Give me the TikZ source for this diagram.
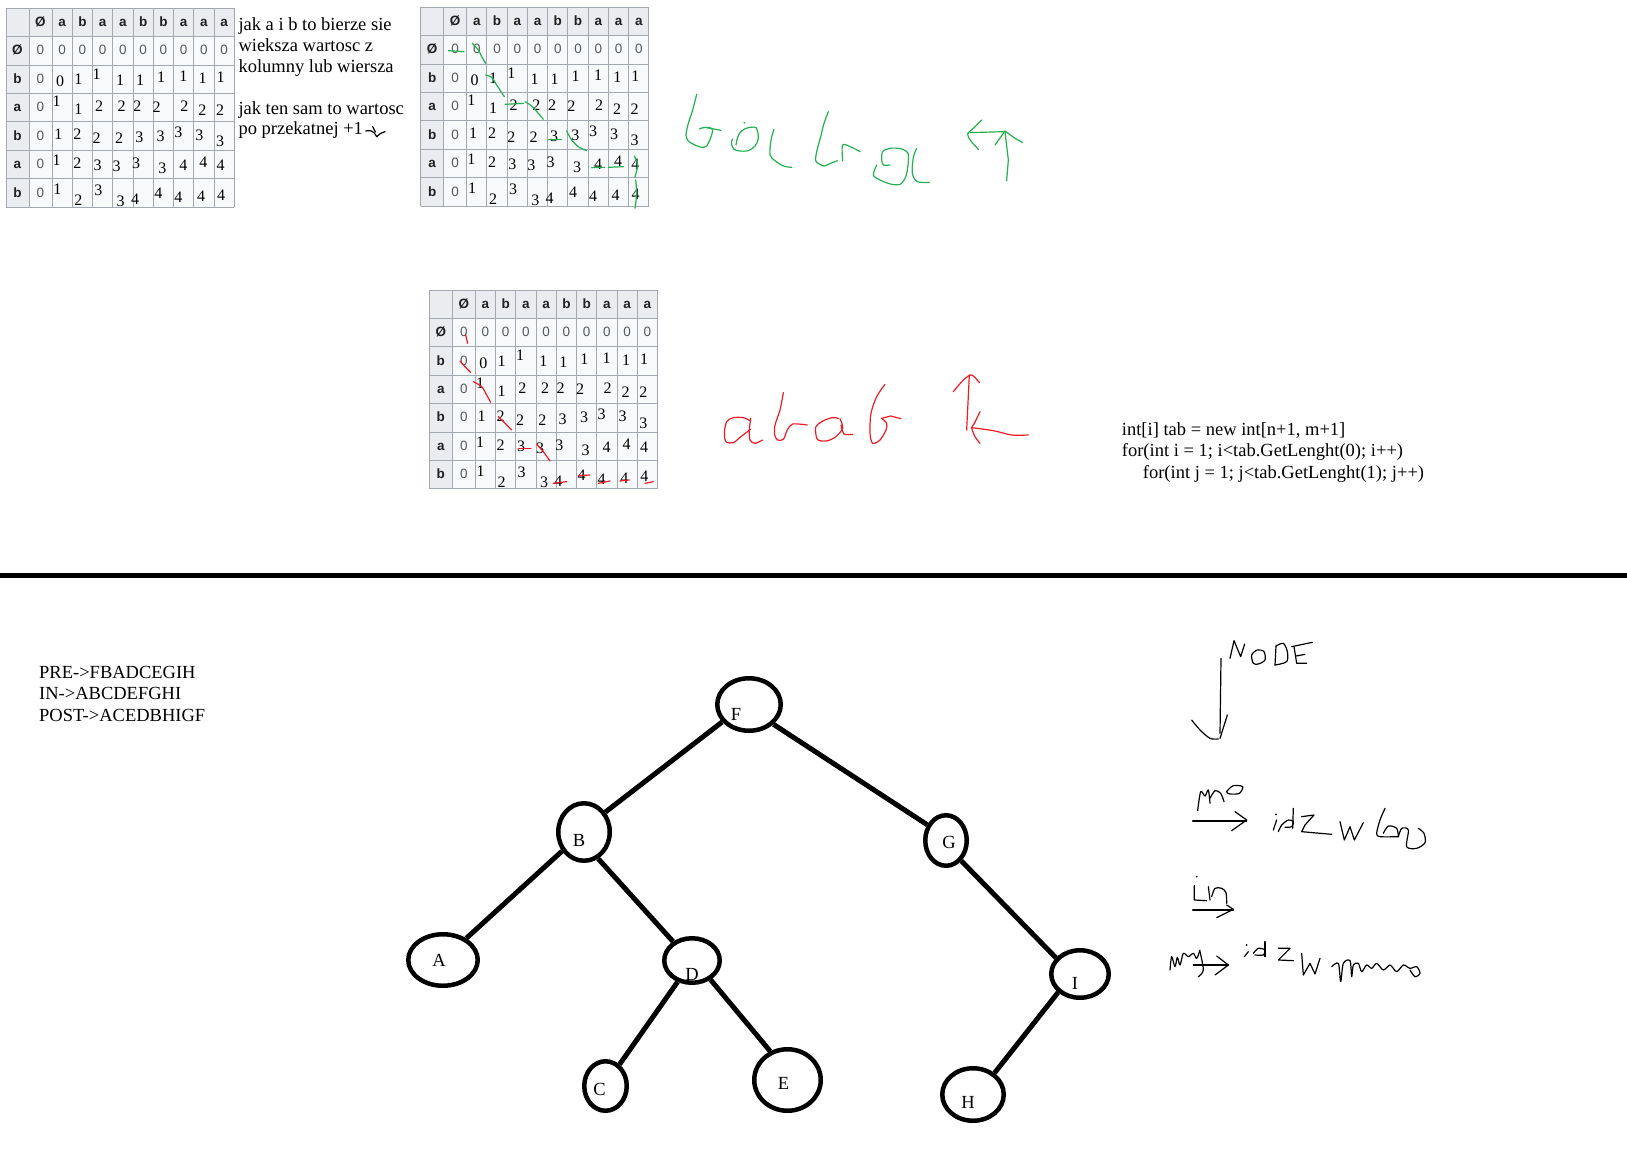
\documentclass[tikz,border=0pt]{standalone}
\usepackage{fontspec}
\setmainfont{Liberation Serif}
\newfontfamily\arialf{Liberation Sans}
\usetikzlibrary{shapes.geometric}
\definecolor{hdr}{HTML}{EAECF0}
\definecolor{cellbg}{HTML}{F8F9FA}
\definecolor{gridc}{HTML}{A2A9B1}
\definecolor{hdtext}{HTML}{202122}
\definecolor{zrtext}{HTML}{54595D}
\definecolor{pgreen}{HTML}{22B14C}
\definecolor{pred}{HTML}{ED1C24}
\tikzset{
 gridl/.style={draw=gridc, line width=1pt},
 hd/.style={font=\arialf\bfseries\fontsize{13.5}{16}\selectfont, text=hdtext, inner sep=0pt, anchor=base},
 zr/.style={font=\arialf\fontsize{13.5}{16}\selectfont, text=zrtext, inner sep=0pt, anchor=base},
 dg/.style={font=\fontsize{16}{18}\selectfont, inner sep=0pt},
 tx/.style={font=\fontsize{18.5}{21}\selectfont, inner sep=0pt, anchor=base west},
 tn/.style={ellipse, draw, line width=4.5pt, inner sep=0pt},
 lbl/.style={font=\fontsize{18.5}{21}\selectfont, inner sep=0pt},
 treeedge/.style={line width=5pt},
 hw/.style={line width=1.2pt, line cap=round, line join=round},
 gs/.style={hw, draw=pgreen},
 rs/.style={hw, draw=pred},
 bs/.style={hw, draw=black},
}
\def\digitlist{54/73.4/0, 72.3/71/1, 90.7/65.7/1, 114/71.7/1, 134/72.4/1, 155/69/1, 177.3/68.4/1, 196.7/70/1, 214.7/69/1,
50.7/93.4/1, 72.3/101/1, 93/98.4/2, 115.7/98.4/2, 131.3/98.4/2, 150.7/99/2, 178.3/98.4/2, 196.3/101.7/2, 214/102.4/2,
52.3/126/1, 71.3/126/2, 90.7/130/2, 113/130/2, 133.3/129/3, 154.7/127.7/3, 172.3/124.4/3, 193.3/126.7/3, 214/133.4/3,
50.7/152.4/1, 71.3/155/2, 91.7/156.7/3, 110.7/158.4/3, 130/155/3, 156.3/160/3, 177.3/157.4/4, 197.3/154.4/4, 214.7/157.4/4,
51.3/181/1, 72.3/191.7/2, 92.3/182.4/3, 114.7/192.7/3, 129/191/4, 152.3/185/4, 172.3/189/4, 195/188.4/4, 215/186.7/4}
\newcommand{\lcstable}[3]{%
\begin{scope}[shift={(#2,#3)}]
 \fill[hdr] (0,0) rectangle (228.25,198.8);
 \fill[cellbg] (23,28.4) rectangle (228.25,198.8);
 \foreach \i in {0,...,7} \draw[gridl] (0,\i*28.4) -- (228.25,\i*28.4);
 \foreach \xx in {0,23} \draw[gridl] (\xx,0) -- (\xx,198.8);
 \foreach \j in {0,...,9} \draw[gridl] (46+\j*20.25,0) -- (46+\j*20.25,198.8);
 \node[hd] (#1h0) at (34.5,18.3) {Ø};
 \foreach \t [count=\j] in {a,b,a,a,b,b,a,a,a} \node[hd] (#1h\j) at (35.875+\j*20.25,18.3) {\t};
 \foreach \t [count=\i] in {Ø,b,a,b,a,b} \node[hd] (#1r\i) at (11.5,\i*28.4+18.3) {\t};
 \foreach \j in {1,...,9} \node[zr] (#1z\j) at (35.875+\j*20.25,46.7) {0};
 \foreach \i in {1,...,6} \node[zr] (#1y\i) at (34.5,\i*28.4+18.3) {0};
 \foreach \x/\y/\d [count=\k] in \digitlist \node[dg] (#1d\k) at (\x,\y) {\d};
\end{scope}}
\begin{document}
\begin{tikzpicture}[x=1pt,y=-1pt]
\useasboundingbox (0,0) rectangle (1627,1148);
\fill[white] (0,0) rectangle (1627,1148);

% ---------- tables ----------
\lcstable{ta}{6}{8.3}
\lcstable{tb}{420.7}{7.3}
\lcstable{tc}{429.3}{290}

% ---------- notes beside table 1 ----------
\node[tx] (n1) at (238.3,30.3) {jak a i b to bierze sie};
\node[tx] (n2) at (238.3,51.3) {wieksza wartosc z};
\node[tx] (n3) at (238.3,72) {kolumny lub wiersza};
\node[tx] (n4) at (238.3,114) {jak ten sam to wartosc};
\node[tx] (n5) at (238.3,134.5) {po przekatnej +1};
\begin{scope}[shift={(0,0)}, scale=1/3]
 \draw[bs] plot[smooth] coordinates {(1097,393) (1110,392) (1122,398) (1130,410)};
 \draw[bs] (1118,380) -- (1126,396);
 \draw[bs] (1130,410) -- (1142,400) -- (1155,395);
\end{scope}

% ---------- green marks on table 2 ----------
\begin{scope}[shift={(415,0)}, scale=1/3]
 \draw[gs] (100,152) -- (147,155);
 \draw[gs] plot[smooth] coordinates {(172,130) (190,150) (200,170) (212,190)};
 \draw[gs] plot[smooth] coordinates {(212,225) (230,232) (245,255) (268,290)};
 \draw[gs] (270,313) -- (325,310);
 \draw[gs] plot[smooth] coordinates {(330,305) (350,318) (370,340) (385,358)};
 \draw[gs] (400,418) -- (440,418);
 \draw[gs] plot[smooth] coordinates {(455,393) (470,420) (490,440) (515,452)};
 \draw[gs] (530,503) -- (568,502);
 \draw[gs] (580,502) -- (625,500);
 \draw[gs] plot[smooth] coordinates {(658,468) (668,495) (660,530)};
 \draw[gs] plot[smooth] coordinates {(662,540) (665,580) (660,625)};
\end{scope}

% ---------- red marks on table 3 ----------
\begin{scope}[shift={(420,285)}, scale=1/3]
 \draw[rs] (137,150) -- (143,175);
 \draw[rs] plot[smooth] coordinates {(120,228) (135,245) (152,262)};
 \draw[rs] plot[smooth] coordinates {(160,290) (185,305) (200,330) (212,352)};
 \draw[rs] plot[smooth] coordinates {(235,395) (255,415) (275,435)};
 \draw[rs] (295,490) -- (333,490);
 \draw[rs] plot[smooth] coordinates {(350,478) (370,500) (390,528)};
 \draw[rs] (400,595) -- (440,590);
 \draw[rs] (475,572) -- (510,570);
 \draw[rs] (535,595) -- (570,588);
 \draw[rs] (600,588) -- (628,585);
 \draw[rs] (675,595) -- (700,590);
\end{scope}

% ---------- green handwriting ----------
\begin{scope}[shift={(660,60)}, scale=1/3]
 \draw[gs] plot[smooth] coordinates {(110,103) (98,150) (85,190) (78,225) (85,243) (105,255) (125,262) (140,258) (150,238) (158,212) (150,203) (130,203) (118,207)};
 \draw[gs] (140,203) -- (183,211);
 \draw[gs] plot[smooth] coordinates {(228,255) (232,235) (240,218) (258,205) (288,203) (295,235) (285,258) (265,272) (240,273) (222,268) (214,250) (218,237)};
 \fill[pgreen] (253,188) circle[radius=3];
 \draw[gs] plot[smooth] coordinates {(342,208) (333,240) (330,285) (345,302) (370,318) (395,322)};
 \draw[gs] plot[smooth] coordinates {(505,155) (492,190) (482,230) (470,275) (467,302) (478,312) (493,318) (512,310) (532,302)};
 \draw[gs] plot[smooth] coordinates {(548,303) (548,255) (575,262) (600,275)};
 \draw[gs] plot[smooth] coordinates {(650,315) (640,345) (660,360) (695,373) (722,372) (738,348) (745,305) (743,278) (722,266) (690,265) (668,275) (665,298) (670,315) (690,315)};
 \draw[gs] plot[smooth] coordinates {(770,265) (760,292) (757,340) (772,365) (808,367)};
 \draw[gs] (925,218) -- (1032,215);
 \draw[gs] plot[smooth] coordinates {(965,180) (940,205) (923,222) (932,242) (955,268)};
 \draw[gs] (1040,362) -- (1045,300) -- (1035,215);
 \draw[gs] (1005,255) -- (1035,213) -- (1065,235) -- (1088,248);
\end{scope}

% ---------- red handwriting ----------
\begin{scope}[shift={(700,350)}, scale=1/3]
 \draw[rs] plot[smooth] coordinates {(150,212) (130,203) (100,203) (80,215) (73,250) (78,275) (100,278) (125,258) (152,238)};
 \draw[rs] plot[smooth] coordinates {(152,205) (148,240) (150,270) (165,280) (188,270)};
 \draw[rs] plot[smooth] coordinates {(250,128) (240,180) (225,225) (224,255) (233,270) (250,268) (262,240) (278,222) (322,225)};
 \draw[rs] plot[smooth] coordinates {(415,205) (395,203) (365,215) (347,232) (352,268) (378,273) (405,262) (428,235) (420,206)};
 \draw[rs] plot[smooth] coordinates {(423,225) (432,252) (458,253)};
 \draw[rs] plot[smooth] coordinates {(555,103) (530,140) (513,190) (510,250) (518,280) (540,270) (558,240) (560,220) (545,205)};
 \draw[rs] (545,205) -- (572,198) -- (603,206);
 \draw[rs] (800,240) -- (808,75);
 \draw[rs] plot[smooth] coordinates {(760,125) (790,90) (815,75) (838,98)};
 \draw[rs] plot[smooth] coordinates {(985,255) (935,255) (880,242) (815,233)};
 \draw[rs] plot[smooth] coordinates {(840,185) (822,222) (815,233) (825,260) (840,280)};
\end{scope}

% ---------- code ----------
\node[tx] (c1) at (1121.7,435.5) {int[i] tab = new int[n+1, m+1]};
\node[tx] (c2) at (1121.7,456.8) {for(int i = 1; i<tab.GetLenght(0); i++)};
\node[tx] (c3) at (1142.7,478) {for(int j = 1; j<tab.GetLenght(1); j++)};

% ---------- separator ----------
\fill[black] (0,572.7) rectangle (1627,577.7);

% ---------- traversals ----------
\node[tx] (p1) at (39,678.3) {PRE->FBADCEGIH};
\node[tx] (p2) at (39,699.8) {IN->ABCDEFGHI};
\node[tx] (p3) at (39,721) {POST->ACEDBHIGF};

% ---------- tree ----------
\node[tn, minimum width=63.5, minimum height=52.5, label={[lbl,xshift=-13pt,yshift=-10pt]center:F}] (F) at (749,704.5) {};
\node[tn, minimum width=51.5, minimum height=57.5, label={[lbl,xshift=-5pt,yshift=-8pt]center:B}] (B) at (584,832) {};
\node[tn, minimum width=41.5, minimum height=50.5, label={[lbl,xshift=3pt,yshift=-2pt]center:G}] (G) at (946,840.5) {};
\node[tn, minimum width=69.5, minimum height=51.5, label={[lbl,xshift=-4pt,yshift=0pt]center:A}] (A) at (443,960) {};
\node[tn, minimum width=55.5, minimum height=44.5, label={[lbl,xshift=0pt,yshift=-14pt]center:D}] (D) at (692,960.5) {};
\node[tn, minimum width=57.5, minimum height=47.5, label={[lbl,xshift=-5pt,yshift=-9pt]center:I}] (I) at (1080,974) {};
\node[tn, minimum width=42.5, minimum height=49.5, label={[lbl,xshift=-6pt,yshift=-3pt]center:C}] (C) at (605.5,1086) {};
\node[tn, minimum width=66.5, minimum height=61.5, label={[lbl,xshift=-4pt,yshift=-3pt]center:E}] (E) at (787.5,1080) {};
\node[tn, minimum width=61.5, minimum height=52.5, label={[lbl,xshift=-5pt,yshift=-8pt]center:H}] (H) at (973,1094.5) {};
\draw[treeedge] (F.213) -- (B.43);
\draw[treeedge] (F.321) -- (G.140);
\draw[treeedge] (B.221) -- (A.43);
\draw[treeedge] (B.298) -- (D.135);
\draw[treeedge] (D.236) -- (C.57);
\draw[treeedge] (D.314) -- (E.121);
\draw[treeedge] (G.307) -- (I.146);
\draw[treeedge] (I.220) -- (H.45);

% ---------- black handwriting ----------
\begin{scope}[shift={(1150,620)}, scale=1/3]
 \draw[bs] (240,115) -- (252,62) -- (272,110) -- (284,72);
 \draw[bs] plot[smooth cycle] coordinates {(310,130) (305,105) (322,90) (342,95) (345,120) (325,132)};
 \draw[bs] (375,135) -- (378,78);
 \draw[bs] plot[smooth] coordinates {(378,78) (400,70) (412,95) (410,125) (375,135)};
 \draw[bs] (425,80) -- (487,67);
 \draw[bs] (432,80) -- (440,130) -- (470,130);
 \draw[bs] (438,108) -- (465,103);
 \draw[bs] (213,115) -- (210,340);
 \draw[bs] plot[smooth] coordinates {(125,300) (150,330) (180,355) (205,357)};
 \draw[bs] (232,285) -- (210,355);
 % pre
 \draw[bs] plot[smooth] coordinates {(143,572) (152,515) (165,528) (175,510) (180,550)};
 \draw[bs] plot[smooth] coordinates {(180,535) (195,512) (212,520) (222,545)};
 \draw[bs] plot[smooth cycle] coordinates {(230,515) (250,497) (278,500) (268,520) (240,522)};
 \draw[bs] (128,603) -- (290,603);
 \draw[bs] (255,575) -- (290,600) -- (245,632);
 % idz w lewo
 \fill (378,583) circle[radius=3];
 \draw[bs] (370,630) -- (380,600);
 \draw[bs] plot[smooth] coordinates {(385,635) (395,615) (415,600) (430,605) (425,620) (405,622)};
 \draw[bs] (430,565) -- (428,625);
 \draw[bs] (455,590) -- (492,585) -- (465,615) -- (455,635) -- (545,643);
 \draw[bs] (570,605) -- (583,660) -- (600,620) -- (613,660) -- (640,608);
 \draw[bs] plot[smooth] coordinates {(705,565) (690,600) (680,640) (690,650) (745,650)};
 \draw[bs] plot[smooth] coordinates {(700,640) (715,618) (740,625) (745,650)};
 \draw[bs] plot[smooth] coordinates {(745,650) (755,625) (775,630) (770,680) (800,685) (825,668) (822,640) (805,625)};
 % in
 \fill (140,770) circle[radius=3];
 \draw[bs] (133,797) -- (133,840) -- (170,842);
 \draw[bs] (175,800) -- (180,840);
 \draw[bs] plot[smooth] coordinates {(185,830) (195,805) (215,805) (228,818) (230,850)};
 \draw[bs] (128,870) -- (250,870);
 \draw[bs] (230,855) -- (250,868) -- (200,893);
 % post
 \draw[bs] plot[smooth] coordinates {(60,1050) (65,1010) (75,1040) (82,1012) (90,1035) (100,1000) (115,1010) (130,1000) (140,1015) (150,990)};
 \draw[bs] plot[smooth] coordinates {(150,995) (160,1050) (145,1070)};
 \draw[bs] (130,1035) -- (235,1035);
 \draw[bs] (200,1008) -- (235,1035) -- (195,1065);
 % idz w prawo
 \fill (290,975) circle[radius=3];
 \draw[bs] (283,1010) -- (295,995);
 \draw[bs] plot[smooth] coordinates {(310,1000) (325,985) (345,990) (340,1005) (315,1005)};
 \draw[bs] (345,965) -- (345,1010);
 \draw[bs] (385,985) -- (420,985) -- (390,1015) -- (385,1020) -- (430,1022);
 \draw[bs] (455,1000) -- (460,1065) -- (480,1030) -- (495,1062) -- (510,1015);
 \draw[bs] plot[smooth] coordinates {(545,1040) (565,1030) (572,1085) (580,1030) (600,1022) (605,1070) (610,1035) (625,1030) (635,1055) (650,1035) (665,1045) (680,1030) (700,1050) (720,1035) (740,1055) (760,1035) (780,1045) (800,1040) (810,1060) (795,1070) (780,1050)};
\end{scope}
\end{tikzpicture}
\end{document}
